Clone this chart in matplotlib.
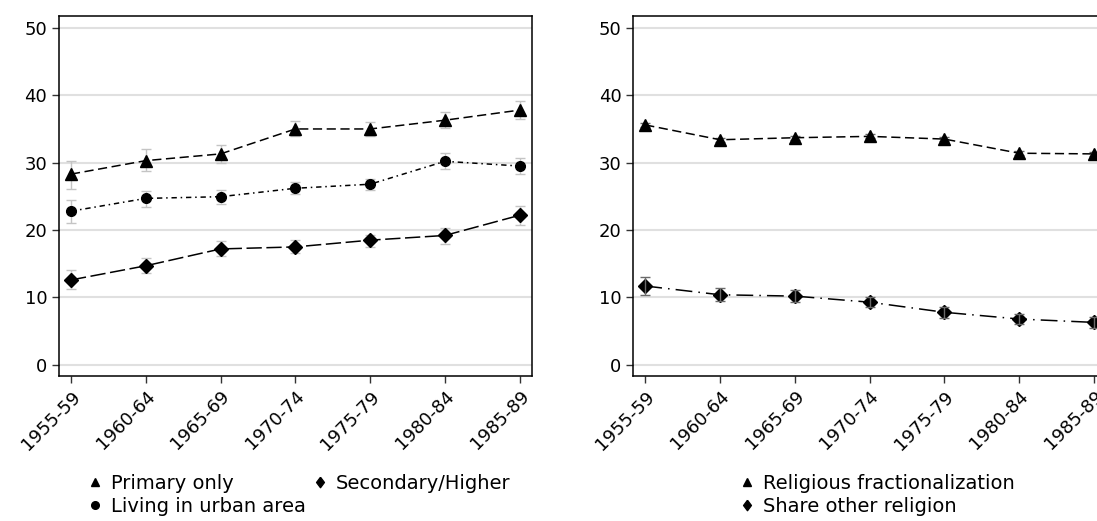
import numpy as np
import matplotlib
matplotlib.use('Agg')
import matplotlib.pyplot as plt
from matplotlib.lines import Line2D

periods = ['1955-59', '1960-64', '1965-69', '1970-74', '1975-79', '1980-84', '1985-89']

# left panel
primary = [28.3, 30.3, 31.3, 35.0, 35.0, 36.3, 37.8]
primary_lo = [26.1, 28.8, 30.0, 33.9, 34.0, 35.1, 36.5]
primary_hi = [30.3, 32.0, 32.6, 36.2, 36.1, 37.5, 39.2]

urban = [22.8, 24.7, 24.95, 26.2, 26.8, 30.2, 29.5]
urban_lo = [21.1, 23.4, 23.9, 25.3, 25.9, 29.0, 28.3]
urban_hi = [24.4, 25.8, 26.0, 27.1, 27.6, 31.4, 30.7]

secondary = [12.6, 14.7, 17.2, 17.5, 18.5, 19.2, 22.2]
secondary_lo = [11.2, 13.6, 16.1, 16.6, 17.5, 17.9, 20.8]
secondary_hi = [14.1, 15.8, 18.4, 18.5, 19.3, 20.3, 23.6]

# right panel (fractionalization CIs hidden under markers)
relfrac = [35.6, 33.4, 33.7, 33.9, 33.5, 31.4, 31.3]
relfrac_lo = [35.3, 33.1, 33.4, 33.6, 33.2, 31.1, 31.0]
relfrac_hi = [35.9, 33.7, 34.0, 34.2, 33.8, 31.7, 31.6]

otherrel = [11.7, 10.4, 10.2, 9.3, 7.8, 6.8, 6.3]
otherrel_lo = [10.4, 9.5, 9.4, 8.6, 7.0, 6.0, 5.5]
otherrel_hi = [13.1, 11.4, 11.1, 10.0, 8.6, 7.6, 7.1]

yticks = [0, 10, 20, 30, 40, 50]

leg_diamond = [(0, 1), (0.75, 0), (0, -1), (-0.75, 0), (0, 1)]

plt.rcParams['font.family'] = 'DejaVu Sans'
fig = plt.figure(figsize=(10.97, 5.21), dpi=100)
ax1 = fig.add_axes([0.0538, 0.2777, 0.4309, 0.6921])
ax2 = fig.add_axes([0.5773, 0.2777, 0.4309, 0.6921])

x = np.arange(len(periods))

def draw(ax, y, lo, hi, marker, ms, dashes, ecol, ez):
    y = np.array(y); lo = np.array(lo); hi = np.array(hi)
    ax.errorbar(x, y, yerr=[y - lo, hi - y], fmt='none', ecolor=ecol,
                elinewidth=1, capsize=3.5, capthick=1, zorder=ez)
    ax.plot(x, y, color='black', lw=1.1, dashes=dashes, marker=marker,
            ms=ms, mfc='black', mec='black', zorder=3)

draw(ax1, primary, primary_lo, primary_hi, '^', 8, (6, 3), '#c4c4c4', 2)
draw(ax1, urban, urban_lo, urban_hi, 'o', 7, (3.5, 2.5, 1, 2.5), '#c4c4c4', 2)
draw(ax1, secondary, secondary_lo, secondary_hi, 'D', 7, (10, 3), '#c4c4c4', 2)
draw(ax2, relfrac, relfrac_lo, relfrac_hi, '^', 8, (6, 3), '#6a6a6a', 2)
draw(ax2, otherrel, otherrel_lo, otherrel_hi, 'D', 7, (11, 4, 1, 4), '#6a6a6a', 4)

for ax in (ax1, ax2):
    ax.set_xlim(-0.16, 6.16)
    ax.set_ylim(-1.7, 51.8)
    ax.set_yticks(yticks)
    ax.set_xticks(x)
    ax.set_xticklabels(periods, rotation=45, ha='right', rotation_mode='anchor')
    ax.tick_params(axis='both', labelsize=13, length=5, width=1, color='#333333')
    ax.tick_params(axis='x', pad=3)
    ax.yaxis.grid(True, color='#e0e0e0', lw=1.5)
    ax.set_axisbelow(True)
    for s in ax.spines.values():
        s.set_color('black')
        s.set_linewidth(1.1)

h_prim = Line2D([], [], ls='none', marker='^', color='black', ms=6)
h_urb = Line2D([], [], ls='none', marker='o', color='black', ms=5.5)
h_sec = Line2D([], [], ls='none', marker=leg_diamond, color='black', ms=7.5)
ax1.legend([h_prim, h_urb, h_sec], ['Primary only', 'Living in urban area', 'Secondary/Higher'],
           ncol=2, loc='upper left', bbox_to_anchor=(0.059, -0.27), frameon=False,
           fontsize=14, handlelength=0.8, handletextpad=0.45, columnspacing=0.3,
           labelspacing=0.22, borderaxespad=0, borderpad=0)

h_rel = Line2D([], [], ls='none', marker='^', color='black', ms=6)
h_oth = Line2D([], [], ls='none', marker=leg_diamond, color='black', ms=7.5)
ax2.legend([h_rel, h_oth], ['Religious fractionalization', 'Share other religion'],
           ncol=1, loc='upper left', bbox_to_anchor=(0.224, -0.27), frameon=False,
           fontsize=14, handlelength=0.8, handletextpad=0.45,
           labelspacing=0.22, borderaxespad=0, borderpad=0)

fig.savefig('out.png', dpi=100)
